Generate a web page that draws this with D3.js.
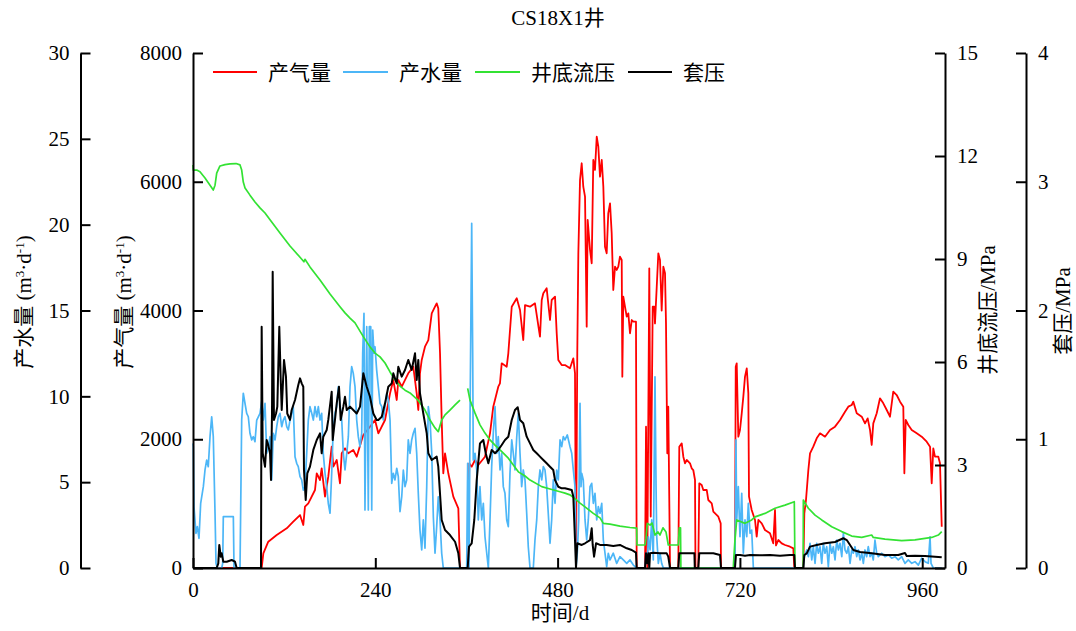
<!DOCTYPE html>
<html>
<head>
<meta charset="utf-8">
<script src="https://cdn.jsdelivr.net/npm/d3@7"></script>
<style>
  html, body { margin: 0; padding: 0; background: #fff; }
  svg text { font-family: "Liberation Serif", "Times New Roman", "Noto Sans CJK SC", serif; fill: #000; }
</style>
</head>
<body>
<svg id="chart" width="1076" height="631"></svg>
<script>
// ---- data: well CS18X1 production history (day, value) ----
const chartTitle = "CS18X1井";
const seriesNames = ["产气量", "产水量", "井底流压", "套压"];
const dayTicks = [0, 240, 480, 720, 960];
const waterTicks = [0, 5, 10, 15, 20, 25, 30];
const gasTicks = [0, 2000, 4000, 6000, 8000];
const bhpTicks = [0, 3, 6, 9, 12, 15];
const casingTicks = [0, 1, 2, 3, 4];

// gas rate, m3/d
const gasRate = [[0,0],[90.4,0],[92.6,228],[99.1,409],[110.2,513],[123.4,616],[132.0,720],[140.9,823],[145.2,668],[147.4,952],[151.8,1005],[160.6,1212],[162.9,1471],[167.2,1367],[169.4,1549],[173.8,1108],[178.1,1419],[182.6,1884],[184.7,1574],[189.2,1678],[193.5,1316],[195.8,1782],[200.1,1859],[204.5,1782],[211.0,1833],[215.5,1729],[222.1,1988],[224.2,2066],[233.0,2195],[239.6,2299],[244.0,2092],[252.8,2299],[259.4,2713],[263.7,2920],[268.2,2610],[270.3,2920],[274.8,2816],[283.4,3024],[290.0,3127],[294.5,2713],[296.6,2454],[298.8,3024],[301.1,3231],[305.4,3438],[309.8,3541],[314.3,3956],[318.6,4059],[320.8,4111],[322.9,4034],[325.2,3335],[327.4,2299],[329.5,1471],[331.8,1782],[336.1,1471],[342.7,1108],[349.3,927],[351.5,0],[362.4,0],[363.7,1626],[366.9,1574],[371.3,1678],[375.6,1600],[384.4,1729],[391.0,2092],[395.3,2506],[401.9,2816],[404.1,2868],[406.4,3179],[413.0,3127],[415.1,3335],[419.6,4059],[426.2,4190],[430.5,4008],[434.8,3541],[437.1,4085],[443.7,4059],[450.2,4111],[456.8,3593],[459.1,4163],[461.2,4267],[465.6,4345],[470.0,3852],[472.2,4163],[476.6,4215],[478.8,3646],[480.9,3231],[485.4,3153],[489.7,3153],[496.3,3102],[500.7,3257],[502.9,3024],[504.2,0],[505.9,3335],[507.3,4888],[509.5,6027],[511.7,6287],[513.8,5923],[516.1,5768],[518.3,3748],[519.6,5406],[522.7,4940],[524.9,4733],[527.0,6338],[529.2,6183],[531.5,6700],[533.6,6545],[535.8,6079],[538.1,6338],[540.2,5923],[542.4,4991],[544.6,4888],[546.7,5510],[549.0,5665],[551.2,5199],[553.3,4318],[555.6,4681],[557.8,4630],[559.9,4681],[562.1,4836],[564.4,4785],[565.2,2972],[566.5,4215],[568.7,4060],[571.0,3904],[573.1,3956],[575.3,3646],[577.6,3852],[579.7,3826],[583.2,3826],[584.1,0],[595.1,0],[596.4,2195],[598.1,0],[600.7,4655],[602.6,800],[605.2,4059],[607.3,4060],[608.2,3800],[610.5,4370],[612.6,4888],[614.8,4785],[617.0,4000],[619.2,4681],[621.4,4578],[622.7,3800],[624.4,1781],[625.7,2506],[628.0,0],[638.9,0],[640.2,1884],[643.4,1936],[645.5,1729],[647.7,1626],[650.0,1678],[654.3,1626],[656.5,1549],[658.6,1522],[660.9,1367],[661.5,0],[665.2,0],[666.5,1316],[669.7,1290],[671.8,1212],[676.3,1212],[678.4,1056],[682.9,1005],[685.0,875],[691.6,797],[694.7,694],[695.1,0],[713.5,0],[714.5,3127],[715.8,3179],[717.9,2040],[720.1,2144],[722.4,2403],[724.5,2661],[726.7,2972],[729.0,3102],[731.1,2713],[732.0,1108],[735.5,901],[739.9,746],[742.1,487],[744.3,746],[748.7,694],[753.0,590],[759.6,540],[763.9,383],[766.2,901],[767.5,350],[770.6,435],[775.0,383],[779.4,357],[786.0,331],[790.3,305],[791.6,0],[803.5,0],[804.8,849],[807.0,1056],[810.1,1522],[812.3,1781],[816.6,1885],[821.1,2014],[825.5,2092],[832.0,2040],[838.6,2144],[845.2,2196],[851.8,2299],[858.4,2428],[862.7,2506],[867.2,2532],[869.3,2583],[873.8,2403],[880.4,2350],[884.7,2247],[888.2,2325],[891.3,2144],[893.5,1911],[895.6,2247],[900.1,2403],[904.4,2636],[908.8,2558],[913.3,2454],[917.6,2350],[921.9,2739],[926.4,2687],[930.8,2584],[935.1,2506],[936.5,1471],[938.3,2299],[941.7,2221],[946.2,2144],[952.8,2092],[959.3,2040],[965.9,1962],[970.3,1885],[972.5,1316],[974.6,1859],[976.8,1729],[981.2,1729],[983.4,1626],[985.7,642]];

// water rate, m3/d
const waterRate = [[0,7.26],[0.4,7.07],[1.3,3.57],[3.9,2.02],[5.7,2.41],[7.9,1.73],[10.1,3.77],[13.6,4.74],[15.8,5.71],[18.0,6.29],[20.1,5.90],[22.4,7.65],[24.6,8.81],[26.7,7.65],[29.0,3.19],[30.3,0.27],[32.0,0],[37.8,0],[39.1,0.27],[39.9,2.99],[53.1,2.99],[54.0,0],[61.9,0],[64.1,8.62],[66.2,10.18],[70.7,9.01],[72.8,8.81],[75.0,7.85],[77.3,7.46],[79.4,7.65],[81.6,7.36],[83.9,8.62],[86.0,8.81],[88.2,9.01],[90.4,9.69],[92.6,8.62],[94.8,9.59],[97.0,6.68],[99.1,7.07],[101.4,7.65],[103.6,5.13],[105.7,7.85],[108.0,7.46],[110.2,8.23],[112.3,8.81],[114.5,9.01],[116.8,8.23],[118.9,8.62],[121.1,8.81],[123.4,8.23],[125.5,8.04],[127.7,8.62],[129.9,9.01],[132.0,9.40],[134.3,6.48],[136.5,6.10],[138.6,5.90],[140.9,5.32],[143.1,5.13],[145.2,4.54],[147.4,4.74],[149.7,6.68],[151.8,8.62],[154.0,9.40],[156.3,9.01],[158.4,8.62],[160.6,9.40],[162.9,8.81],[165.0,9.40],[167.2,8.62],[169.4,9.01],[171.5,6.68],[173.8,5.52],[176.0,4.74],[178.1,3.77],[180.4,3.19],[182.6,5.52],[184.7,8.23],[186.9,9.01],[189.2,9.40],[191.3,10.56],[193.5,9.59],[195.8,8.62],[197.9,6.68],[200.1,5.71],[202.4,6.68],[204.5,7.65],[206.7,10.56],[208.9,11.73],[211.0,11.34],[213.3,10.56],[215.5,8.62],[217.6,7.65],[219.9,7.07],[222.1,7.85],[223.4,12.51],[225.1,14.84],[226.4,3.38],[228.7,14.06],[230.8,3.38],[232.1,14.06],[234.0,14.06],[235.3,3.38],[236.6,13.86],[238.3,12.51],[239.6,12.89],[241.8,11.53],[244.0,10.56],[246.2,9.59],[248.5,9.40],[250.5,8.62],[252.8,9.40],[255.0,10.18],[257.1,9.79],[259.4,8.62],[261.6,4.93],[263.7,5.52],[265.9,5.13],[268.2,5.81],[270.3,5.32],[272.5,3.28],[274.8,4.15],[276.9,5.71],[279.1,4.74],[281.3,5.13],[283.4,7.46],[285.7,6.68],[287.9,7.46],[290.0,7.85],[292.3,8.14],[294.5,6.68],[296.6,4.35],[298.8,2.21],[301.1,1.05],[303.2,2.80],[305.4,1.15],[307.7,4.74],[309.8,9.40],[312.0,8.62],[314.3,6.68],[316.4,2.99],[318.6,0.86],[320.8,2.41],[322.9,4.15],[325.2,2.80],[327.4,0.86],[329.5,0],[360.3,0],[361.6,6.10],[363.4,0],[364.7,8.62],[366.9,20.08],[368.2,12.51],[369.0,6.29],[371.3,6.68],[373.5,5.71],[375.6,2.80],[377.8,4.74],[380.1,2.80],[382.2,3.77],[384.4,1.82],[386.7,0.86],[388.8,0],[391.0,2.80],[393.2,5.90],[395.3,7.85],[397.6,9.40],[399.8,6.68],[401.9,7.65],[404.2,5.71],[406.4,6.68],[408.5,4.74],[410.7,4.35],[413.0,2.80],[415.1,2.41],[417.3,5.52],[419.6,7.46],[421.7,6.68],[423.9,5.71],[426.2,7.65],[428.3,9.01],[430.5,6.68],[432.7,4.74],[434.8,5.71],[437.1,5.13],[439.3,3.19],[441.4,1.24],[443.7,0],[448.0,0],[450.2,1.63],[452.5,2.80],[454.6,4.74],[456.8,5.71],[459.1,5.13],[461.2,5.90],[463.4,5.71],[465.6,4.74],[467.7,3.19],[470.0,1.44],[472.2,2.80],[474.3,5.13],[476.6,3.77],[478.8,5.71],[480.9,5.13],[483.2,7.46],[485.4,7.07],[487.5,7.65],[489.7,7.46],[492.8,7.75],[496.3,7.07],[498.6,6.68],[500.7,5.71],[502.9,4.74],[504.2,0],[505.9,0.86],[507.8,2.80],[509.5,9.59],[510.8,4.74],[511.7,5.52],[513.8,5.13],[516.1,2.80],[518.3,1.63],[520.4,2.80],[522.7,4.74],[524.9,4.93],[527.0,3.77],[529.2,4.35],[531.5,2.80],[533.6,3.57],[535.8,3.19],[538.1,3.77],[540.2,1.63],[542.4,0.86],[544.6,0.08],[546.7,0.86],[549.0,0.47],[553.3,0.86],[557.8,0.27],[562.1,0.66],[566.5,0.47],[571.0,0.27],[575.3,0.47],[579.7,0.17],[584.1,0],[595.1,0],[596.4,0.86],[598.1,0.27],[599.4,1.82],[601.7,1.05],[603.9,2.80],[606.0,0.47],[608.2,11.14],[609.6,4.74],[610.5,1.82],[612.6,0.27],[614.8,0.86],[617.0,0.27],[619.2,0],[713.5,0],[714.8,7.46],[715.8,2.80],[717.9,4.74],[720.1,1.82],[722.4,4.35],[724.5,0.86],[726.7,2.80],[729.0,1.82],[731.1,3.77],[733.3,2.02],[735.5,2.21],[737.7,0],[803.5,0],[804.8,0.66],[808.0,1.05],[810.1,0.66],[812.3,1.44],[814.6,0.47],[816.6,1.24],[818.9,0.27],[821.1,1.44],[823.2,0.86],[825.5,1.24],[827.7,0.27],[829.8,1.44],[832.0,0.86],[834.3,1.24],[836.4,0.08],[838.6,1.44],[840.9,0.86],[843.0,1.24],[845.2,0.47],[847.5,1.63],[849.6,1.05],[851.8,1.44],[854.1,0.66],[856.2,2.02],[858.4,1.05],[860.7,0.86],[862.8,1.24],[865.0,0.27],[867.2,1.05],[869.3,0.86],[871.5,1.24],[873.8,0.66],[875.9,1.05],[878.1,0.47],[880.4,0.86],[882.5,0.27],[884.7,1.05],[886.9,0.66],[889.0,1.24],[891.3,0.66],[893.5,0.86],[895.6,0.47],[897.8,1.63],[900.1,0.86],[902.2,0.66],[906.7,0.86],[911.0,0.66],[915.4,0.76],[919.8,0.57],[924.2,0.66],[928.5,0.47],[933.0,0.66],[937.3,0.27],[941.7,0.47],[946.2,0.27],[950.5,0.37],[954.9,0.17],[959.3,0.57],[963.7,0.37],[968.0,0.27],[970.3,1.82],[971.6,0.27],[974.6,0],[985.7,0]];

// bottom-hole flowing pressure, MPa (null = no record)
const bottomholePressure = [[0,11.74],[0.4,11.59],[4.9,11.59],[9.2,11.54],[15.8,11.36],[22.4,11.15],[26.7,11.01],[29.0,11.15],[31.2,11.50],[35.5,11.71],[42.1,11.75],[48.7,11.77],[56.6,11.78],[61.9,11.74],[64.1,11.59],[66.2,11.24],[68.5,11.07],[75.0,10.86],[81.6,10.66],[88.2,10.49],[94.8,10.34],[101.4,10.14],[114.5,9.76],[127.7,9.38],[140.9,9.05],[146.0,8.92],[147.4,8.99],[154.0,8.77],[167.2,8.39],[180.4,7.98],[193.5,7.61],[200.1,7.43],[206.7,7.28],[213.3,7.14],[224.2,6.74],[233.0,6.44],[239.6,6.26],[246.2,6.15],[252.8,5.97],[259.4,5.71],[265.9,5.48],[272.5,5.30],[279.1,5.18],[285.7,5.10],[296.2,4.89],[305.4,4.60],[312.0,4.31],[318.6,4.08],[322.9,3.97],[327.4,4.31],[331.8,4.46],[338.3,4.60],[345.0,4.75],[351.5,4.89],[356.0,null],[361.6,5.23],[364.7,4.89],[371.3,4.51],[377.8,4.17],[384.4,3.93],[391.0,3.73],[397.6,3.58],[404.2,3.44],[415.1,3.20],[428.3,2.80],[437.1,2.68],[443.7,2.56],[459.1,2.37],[470.0,2.30],[483.2,2.22],[489.7,2.18],[496.3,2.13],[505.1,1.98],[509.5,1.89],[516.1,1.78],[527.0,1.59],[535.8,1.46],[540.2,1.30],[549.0,1.28],[562.1,1.22],[575.3,1.18],[584.1,1.16],[584.5,0.67],[595.1,0.67],[596.4,0.87],[598.1,1.30],[601.7,1.25],[604.3,1.31],[608.2,0.96],[612.1,1.05],[614.8,0.96],[618.7,1.17],[622.7,1.05],[625.7,0.67],[638.9,0.67],[640.2,1.17],[641.8,1.17],[642.3,0],[711.3,0],[711.6,0.14],[713.5,0.82],[715.8,1.40],[726.7,1.30],[735.5,1.40],[739.9,1.49],[753.0,1.59],[766.2,1.74],[779.4,1.83],[791.6,1.93],[792.5,0],[803.3,0],[803.5,1.98],[804.8,1.93],[810.1,1.74],[818.9,1.54],[827.7,1.40],[840.9,1.20],[854.0,1.06],[867.2,0.93],[880.4,0.89],[893.5,0.96],[895.6,0.89],[911.0,0.84],[933.0,0.80],[950.5,0.82],[972.5,0.89],[981.2,0.96],[985.7,1.06]];

// casing pressure, MPa
const casingPressure = [[0,0],[31.2,0],[33.3,0.036],[34.6,0.179],[36.5,0.088],[37.8,0.114],[39.9,0.049],[44.4,0.049],[50.9,0.062],[55.3,0.049],[57.5,0],[89.5,0],[90.4,1.874],[91.8,0.891],[94.8,0.787],[97.0,0.994],[99.1,0.955],[101.4,0.891],[102.7,0.683],[104.0,1.20],[104.9,2.301],[106.6,1.15],[109.3,1.20],[111.0,1.253],[113.6,1.874],[115.5,1.46],[116.8,1.227],[119.8,1.616],[122.4,1.486],[124.1,1.20],[127.7,1.15],[129.9,1.227],[134.3,1.305],[138.6,1.421],[140.9,1.473],[143.1,1.434],[145.2,1.408],[146.1,0.761],[148.4,0.528],[150.5,0.735],[154.0,0.787],[158.4,0.917],[162.9,0.994],[167.2,1.046],[169.4,0.891],[171.5,1.020],[176.0,1.072],[178.1,1.15],[182.6,1.369],[183.9,0.994],[186.9,1.15],[189.2,1.279],[192.2,1.408],[194.4,1.15],[197.9,1.253],[200.1,1.330],[202.4,1.227],[206.7,1.253],[211.0,1.227],[215.5,1.20],[219.9,1.253],[224.2,1.512],[228.7,1.408],[233.0,1.330],[237.4,1.20],[241.8,1.15],[244.0,1.15],[248.5,1.175],[252.8,1.279],[257.1,1.408],[261.6,1.434],[263.7,1.512],[268.2,1.434],[270.3,1.563],[274.8,1.486],[279.1,1.538],[283.4,1.616],[287.9,1.538],[292.3,1.668],[294.5,1.46],[296.6,1.616],[298.8,1.357],[303.2,1.20],[307.7,1.046],[309.8,0.891],[314.3,0.839],[320.8,0.865],[322.9,0.787],[327.4,0.373],[331.8,0.295],[338.3,0.256],[345.0,0.204],[349.3,0.114],[351.5,0],[361.6,0],[363.4,0.166],[366.9,0.192],[370.3,0.373],[373.5,0.683],[377.8,0.968],[382.2,0.994],[385.4,0.891],[388.8,0.813],[393.2,0.917],[397.6,0.891],[401.9,0.917],[406.4,0.955],[410.7,0.994],[415.1,1.020],[419.6,1.15],[423.9,1.227],[427.5,1.248],[430.5,1.15],[434.8,1.124],[439.3,1.020],[443.7,0.968],[448.0,0.917],[452.5,0.891],[456.8,0.865],[461.2,0.839],[465.6,0.813],[470.0,0.787],[474.3,0.761],[476.6,0.683],[480.9,0.631],[485.4,0.619],[489.7,0.619],[498.6,0.606],[500.7,0.554],[502.9,0.217],[504.2,0],[505.9,0.192],[511.7,0.179],[516.1,0.192],[522.7,0.217],[524.9,0.308],[526.2,0.179],[528.0,0.088],[530.6,0.192],[535.8,0.179],[544.6,0.179],[553.3,0.171],[562.1,0.179],[571.0,0.153],[577.6,0.140],[583.2,0.119],[584.1,0],[595.1,0],[596.4,0.114],[598.1,0.036],[599.4,0.114],[600.7,0],[601.7,0.114],[606.0,0.119],[614.8,0.114],[623.6,0.114],[625.7,0.088],[628.0,0],[638.9,0],[640.2,0.114],[650.0,0.114],[660.1,0.114],[660.6,0],[665.2,0],[666.5,0.114],[676.3,0.114],[685.0,0.114],[693.8,0.101],[695.1,0],[713.5,0],[714.8,0.101],[720.1,0.101],[726.7,0.096],[733.3,0.101],[746.4,0.099],[759.6,0.101],[772.8,0.096],[786.0,0.101],[791.6,0.101],[792.5,0],[803.5,0],[804.8,0.101],[808.0,0.114],[812.3,0.166],[821.1,0.179],[832.0,0.192],[845.2,0.202],[856.2,0.231],[860.7,0.217],[865.0,0.179],[869.3,0.140],[878.1,0.124],[893.5,0.114],[911.0,0.101],[928.5,0.101],[937.3,0.117],[939.6,0.093],[950.5,0.096],[963.7,0.093],[976.8,0.088],[985.7,0.083]];

// ---- drawing ----
const FONT = '"Liberation Serif", "Times New Roman", "Noto Sans CJK SC", serif';
const FS = 21;
const plot = { left: 193, right: 945, top: 53, bottom: 568 };
const outerLeftX = 80.5, outerRightX = 1026;
const plain = d3.format("d");

const svg = d3.select("#chart");

const x = d3.scaleLinear().domain([0, 990]).range([plot.left, plot.right]);
const yGas = d3.scaleLinear().domain([0, 8000]).range([plot.bottom, plot.top]);
const yWater = d3.scaleLinear().domain([0, 30]).range([plot.bottom, plot.top]);
const yBhp = d3.scaleLinear().domain([0, 15]).range([plot.bottom, plot.top]);
const yCasing = d3.scaleLinear().domain([0, 4]).range([plot.bottom, plot.top]);

function styleAxis(g) {
  g.attr("font-family", FONT).attr("font-size", FS);
  g.select(".domain").attr("stroke", "#000").attr("stroke-width", 2);
  g.selectAll(".tick line").attr("stroke", "#000").attr("stroke-width", 2);
  g.selectAll(".tick text").attr("fill", "#000").style("font-family", FONT).style("font-size", FS + "px");
}

// series lines
function drawSeries(data, yScale, color, width) {
  const line = d3.line()
    .defined(d => d[1] !== null)
    .x(d => x(d[0]))
    .y(d => yScale(d[1]));
  svg.append("path")
    .datum(data)
    .attr("fill", "none")
    .attr("stroke", color)
    .attr("stroke-width", width)
    .attr("stroke-linejoin", "round")
    .attr("d", line);
}

const colors = { gas: "#ff0000", water: "#4cb6f7", bhp: "#33e233", casing: "#000000" };

drawSeries(gasRate, yGas, colors.gas, 1.8);
drawSeries(waterRate, yWater, colors.water, 1.7);
drawSeries(bottomholePressure, yBhp, colors.bhp, 1.7);
drawSeries(casingPressure, yCasing, colors.casing, 2);

// axes
svg.append("g")
  .attr("transform", `translate(${outerLeftX},0)`)
  .call(d3.axisLeft(yWater).tickValues(waterTicks).tickFormat(plain).tickSizeInner(-10).tickSizeOuter(0).tickPadding(11))
  .call(styleAxis);

svg.append("g")
  .attr("transform", `translate(${plot.left},0)`)
  .call(d3.axisLeft(yGas).tickValues(gasTicks).tickFormat(plain).tickSizeInner(-10).tickSizeOuter(0).tickPadding(11))
  .call(styleAxis);

svg.append("g")
  .attr("transform", `translate(${plot.right},0)`)
  .call(d3.axisRight(yBhp).tickValues(bhpTicks).tickFormat(plain).tickSizeInner(-10).tickSizeOuter(0).tickPadding(12))
  .call(styleAxis);

svg.append("g")
  .attr("transform", `translate(${outerRightX},0)`)
  .call(d3.axisRight(yCasing).tickValues(casingTicks).tickFormat(plain).tickSizeInner(-10).tickSizeOuter(0).tickPadding(12))
  .call(styleAxis);

svg.append("g")
  .attr("transform", `translate(0,${plot.bottom})`)
  .call(d3.axisBottom(x).tickValues(dayTicks).tickFormat(plain).tickSizeInner(-10).tickSizeOuter(0).tickPadding(14))
  .call(styleAxis);

// title
svg.append("text")
  .attr("x", 558).attr("y", 25)
  .attr("text-anchor", "middle")
  .style("font-size", FS + "px")
  .text(chartTitle);

// x-axis title
svg.append("text")
  .attr("x", 560).attr("y", 620)
  .attr("text-anchor", "middle")
  .style("font-size", FS + "px")
  .text("时间/d");

// y-axis titles (rotated)
function rotatedTitle(cx, cy, parts) {
  const t = svg.append("text")
    .attr("transform", `translate(${cx},${cy}) rotate(-90)`)
    .attr("text-anchor", "middle")
    .style("font-size", FS + "px");
  parts.forEach(p => {
    const s = t.append("tspan").text(p.text);
    if (p.sup) s.style("font-size", "13px").attr("baseline-shift", "super");
  });
}
const rateUnit = [{ text: " (m" }, { text: "3", sup: true }, { text: "·d" }, { text: "-1", sup: true }, { text: ")" }];
rotatedTitle(31, 302, [{ text: seriesNames[1] }].concat(rateUnit));
rotatedTitle(131, 302, [{ text: seriesNames[0] }].concat(rateUnit));
rotatedTitle(995, 310, [{ text: seriesNames[2] + "/MPa" }]);
rotatedTitle(1070, 311, [{ text: seriesNames[3] + "/MPa" }]);

// legend
const legendItems = [
  { name: seriesNames[0], color: colors.gas, x1: 213, x2: 257, tx: 268 },
  { name: seriesNames[1], color: colors.water, x1: 343, x2: 388, tx: 399 },
  { name: seriesNames[2], color: colors.bhp, x1: 475, x2: 520, tx: 531 },
  { name: seriesNames[3], color: colors.casing, x1: 628, x2: 672, tx: 683 }
];
const lg = svg.append("g");
legendItems.forEach(it => {
  lg.append("line")
    .attr("x1", it.x1).attr("x2", it.x2)
    .attr("y1", 72).attr("y2", 72)
    .attr("stroke", it.color).attr("stroke-width", 2);
  lg.append("text")
    .attr("x", it.tx).attr("y", 80)
    .style("font-size", FS + "px")
    .text(it.name);
});
</script>
</body>
</html>
